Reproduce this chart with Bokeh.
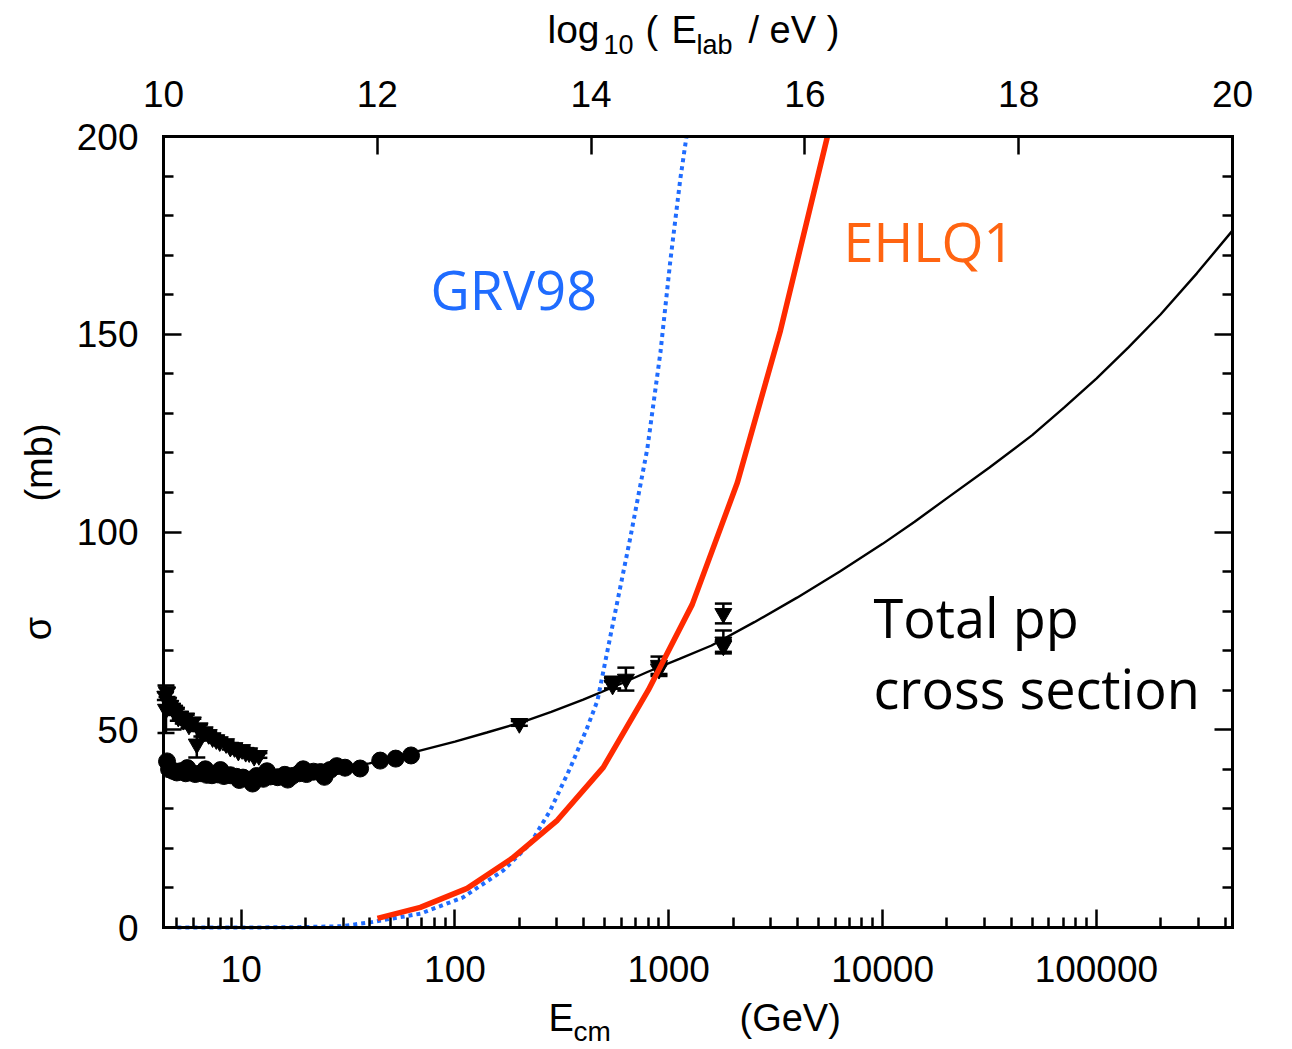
import math

from bokeh.embed import file_html
from bokeh.models import (ColumnDataSource, FixedTicker, Label, LinearAxis,
                          LinearScale, LogAxis, NumeralTickFormatter, Range1d,
                          TeeHead, Whisker)
from bokeh.plotting import figure
from bokeh.resources import INLINE

# ---------------------------------------------------------------- data
# Total pp cross-section fit: E_cm (GeV) vs sigma (mb)
fit_ecm = [10, 15.85, 25.1, 39.8, 63.1, 100, 141, 200, 282, 398, 562, 794,
           1122, 1585, 2512, 3981, 6310, 10000, 14125, 19953, 31623, 50119,
           70795, 100000, 141254, 199526, 295121, 433000]
fit_sigma = [38.4, 38.6, 39.6, 41.5, 44.2, 47.0, 49.3, 51.7, 54.5, 57.6,
             61.0, 64.6, 67.9, 71.3, 77.2, 83.4, 90.0, 97.0, 102.6, 108.5,
             116.3, 124.5, 131.5, 138.8, 146.7, 155.0, 165.4, 176.2]

# EHLQ1 prediction
ehlq_ecm = [43.4, 68.9, 114, 185, 301, 494, 802, 1288, 2094, 3327, 5521]
ehlq_sigma = [2.3, 5.1, 9.9, 17.5, 27.1, 40.5, 60.0, 81.7, 112.5, 150.9, 200.0]

# GRV98 prediction
grv_ecm = [5.03, 11.0, 18.9, 29.1, 40.2, 68.9, 109, 168, 225, 279, 347, 416,
           464, 551, 661, 794, 914, 1017, 1133, 1208]
grv_sigma = [0.0, 0.0, 0.1, 0.3, 1.3, 3.5, 7.6, 14.4, 21.2, 29.6, 40.5, 50.6,
             57.4, 77.5, 98.6, 121.1, 145.4, 168.6, 189.4, 199.7]

# pp measurements (circles)
pp_ecm = [4.5, 4.6, 4.8, 5.0, 5.2, 5.5, 5.6, 5.8, 6.1, 6.5, 6.8, 6.9, 7.3,
          7.8, 8.0, 8.3, 8.9, 9.5, 9.8, 10.2, 11.0, 11.3, 11.8, 12.7, 13.2,
          13.7, 14.8, 16.0, 16.5, 17.3, 18.7, 19.5, 20.2, 21.8, 23.5, 24.5,
          26.0, 28.0, 30.6, 36.0, 44.7, 52.8, 62.3]
pp_sigma = [42.0, 40.0, 39.6, 39.2, 39.5, 39.0, 40.3, 39.2, 38.8, 39.0, 40.0,
            38.6, 38.5, 38.7, 39.8, 38.3, 38.5, 38.1, 37.3, 37.9, 37.2, 36.4,
            38.3, 37.6, 39.5, 38.2, 38.0, 38.6, 37.4, 38.3, 39.0, 40.0, 38.8,
            39.4, 39.3, 38.1, 39.8, 40.8, 40.4, 40.2, 42.2, 42.7, 43.5]

# p-pbar measurements (down triangles) with errors
ppbar_ecm = [4.42, 4.45, 4.5, 4.56, 4.66, 4.76, 4.87, 4.97, 5.08, 5.19, 5.36,
             5.53, 5.7, 5.94, 6.2, 6.39, 6.55, 6.75, 7.05, 7.35, 7.65, 7.94,
             8.5, 8.9, 9.3, 9.7, 10.1, 10.5, 10.9, 11.5, 12.1,
             200, 546, 546, 630, 900, 900, 1800, 1800, 1800]
ppbar_sigma = [58.5, 55.2, 59.5, 57.0, 56.2, 55.5, 55.0, 54.5, 53.2, 53.5,
               52.4, 53.0, 51.2, 52.0, 46.4, 50.5, 49.0, 49.5, 48.8, 48.0,
               47.5, 47.0, 46.5, 45.6, 45.5, 44.6, 45.0, 44.3, 44.2, 43.3,
               43.5,
               51.6, 61.3, 61.9, 62.8, 65.3, 66.3, 79.4, 72.2, 71.2]
ppbar_err = [1.0, 6.0, 1.2, 0.9, 1.0, 0.9, 0.9, 0.8, 0.9, 0.8, 0.8, 0.8, 0.8,
             0.8, 3.4, 0.8, 0.7, 0.7, 0.7, 0.7, 0.7, 0.7, 0.6, 0.6, 0.6, 0.6,
             0.6, 0.6, 0.6, 0.6, 0.6,
             0.6, 0.9, 1.5, 2.9, 1.7, 2.2, 2.5, 2.9, 1.5]

# axis tick values
ecm_ticks = [10, 100, 1000, 10000, 100000]
lab_ticks = [10, 12, 14, 16, 18, 20]
sigma_ticks = [0, 50, 100, 150, 200]

# ---------------------------------------------------------------- layout
PROTON_MASS = 0.938272  # GeV
LAB_LOG_MIN, LAB_LOG_MAX = 10, 20
SIGMA_MIN, SIGMA_MAX = 0, 200


def ecm_from_lab(log_elab_ev):
    """Centre-of-mass energy (GeV) of a proton hitting a proton at rest."""
    return math.sqrt(2.0 * PROTON_MASS * 10 ** (log_elab_ev - 9))


E_MIN, E_MAX = ecm_from_lab(LAB_LOG_MIN), ecm_from_lab(LAB_LOG_MAX)

# canvas and the boxed plotting area inside it (pixels)
W, H = 1292, 1049
BOX_L, BOX_R, BOX_T, BOX_B = 163, 1232, 136, 927
BOX_W, BOX_H = BOX_R - BOX_L, BOX_B - BOX_T

# ranges are widened so the box lands at the pixels above
dec_per_px = (math.log10(E_MAX) - math.log10(E_MIN)) / BOX_W
x_start = 10 ** (math.log10(E_MIN) - BOX_L * dec_per_px)
x_end = 10 ** (math.log10(E_MAX) + (W - BOX_R) * dec_per_px)
sig_per_px = (SIGMA_MAX - SIGMA_MIN) / BOX_H
y_start = SIGMA_MIN - (H - BOX_B) * sig_per_px
y_end = SIGMA_MAX + BOX_T * sig_per_px
lab_per_px = (LAB_LOG_MAX - LAB_LOG_MIN) / BOX_W
lab_start = LAB_LOG_MIN - BOX_L * lab_per_px
lab_end = LAB_LOG_MAX + (W - BOX_R) * lab_per_px

TICK_FONT = "Liberation Sans"
TEXT_FONT = "Open Sans"

p = figure(
    x_axis_type="log",
    x_range=Range1d(x_start, x_end),
    y_range=Range1d(y_start, y_end),
    x_axis_location=None, y_axis_location=None,
    frame_width=W, frame_height=H, min_border=0,
    output_backend="svg", toolbar_location=None,
    background_fill_color="white", border_fill_color="white",
)
p.grid.visible = False
p.outline_line_color = None
p.extra_x_ranges = {"lab": Range1d(lab_start, lab_end)}
p.extra_x_scales = {"lab": LinearScale()}


def style_axis(ax, standoff=25, label_size="37px"):
    ax.axis_line_width = 3
    ax.axis_line_color = "black"
    ax.axis_line_cap = "square"
    ax.major_tick_in = 18
    ax.major_tick_out = 0
    ax.minor_tick_in = 10
    ax.minor_tick_out = 0
    ax.major_tick_line_width = 2.5
    ax.minor_tick_line_width = 2.5
    ax.major_tick_line_color = "black"
    ax.minor_tick_line_color = "black"
    ax.major_label_text_font = TICK_FONT
    ax.major_label_text_font_size = label_size
    ax.major_label_text_color = "black"
    ax.major_label_standoff = standoff


# minor ticks: 2..9 per decade, kept inside the box
ecm_minor = [m * d for d in [1, 10, 100, 1000, 10000, 100000]
             for m in range(2, 10) if E_MIN < m * d < E_MAX]
sigma_minor = [v for v in range(SIGMA_MIN, SIGMA_MAX + 1, 10) if v % 50]

# bottom: E_cm (log)
bottom = LogAxis(fixed_location=SIGMA_MIN, bounds=(E_MIN, E_MAX),
                 ticker=FixedTicker(ticks=ecm_ticks, minor_ticks=ecm_minor),
                 formatter=NumeralTickFormatter(format="0"))
style_axis(bottom, standoff=28)
p.add_layout(bottom, "below")

# top: log10(E_lab / eV)
top = LinearAxis(x_range_name="lab", fixed_location=SIGMA_MAX,
                 bounds=(LAB_LOG_MIN, LAB_LOG_MAX),
                 ticker=FixedTicker(ticks=lab_ticks, minor_ticks=[]))
style_axis(top, standoff=30)
p.add_layout(top, "above")

# left: sigma
left = LinearAxis(fixed_location=E_MIN, bounds=(SIGMA_MIN, SIGMA_MAX),
                  ticker=FixedTicker(ticks=sigma_ticks, minor_ticks=sigma_minor))
style_axis(left, standoff=25)
p.add_layout(left, "left")

# right: mirrored sigma ticks, no labels
right = LinearAxis(fixed_location=E_MAX, bounds=(SIGMA_MIN, SIGMA_MAX),
                   ticker=FixedTicker(ticks=sigma_ticks, minor_ticks=sigma_minor))
style_axis(right, label_size="0px")
right.major_label_text_color = None
p.add_layout(right, "right")

# ---------------------------------------------------------------- curves
p.line(fit_ecm, fit_sigma, line_color="black", line_width=2.4)
p.line(grv_ecm, grv_sigma, line_color="#1f6cff", line_width=4,
       line_dash="4 4")

err_src = ColumnDataSource(dict(
    x=ppbar_ecm,
    lo=[s - e for s, e in zip(ppbar_sigma, ppbar_err)],
    hi=[s + e for s, e in zip(ppbar_sigma, ppbar_err)],
))
p.add_layout(Whisker(
    base="x", lower="lo", upper="hi", source=err_src, dimension="height",
    line_color="black", line_width=2.5,
    lower_head=TeeHead(size=17, line_width=2.5, line_color="black"),
    upper_head=TeeHead(size=17, line_width=2.5, line_color="black"),
))

p.scatter(pp_ecm, pp_sigma, marker="circle", size=17,
          fill_color="black", line_color="black")
p.scatter(ppbar_ecm, ppbar_sigma, marker="inverted_triangle", size=17,
          fill_color="black", line_color="black")

p.line(ehlq_ecm, ehlq_sigma, line_color="#ff2a00", line_width=5.5)

# ---------------------------------------------------------------- texts
BASELINE_SHIFT = 0.435  # em; lifts Bokeh's alphabetic anchor onto the baseline


def put(text, X, Y, size, color="black", font=TICK_FONT, rotated=False,
        align="left"):
    """Place a text with its baseline start at canvas pixel (X, Y)."""
    if rotated:
        X, angle = X - BASELINE_SHIFT * size, math.pi / 2
    else:
        Y, angle = Y - BASELINE_SHIFT * size, 0.0
    p.add_layout(Label(
        x=X, y=H - Y, x_units="screen", y_units="screen",
        text=text, text_font=font, text_font_size=f"{size}px",
        text_color=color, angle=angle, text_align=align,
        text_baseline="alphabetic",
    ))


put("GRV98", 430, 312, 54, color="#1f6cff", font=TEXT_FONT)
put("EHLQ1", 843, 264, 54, color="#ff6411", font=TEXT_FONT)
put("Total pp", 873, 640, 54, font=TEXT_FONT)
put("cross section", 873, 711, 54, font=TEXT_FONT)

# top axis title: log10 ( E_lab / eV )
put("log", 547, 46, 39)
put("10", 603, 56, 27)
put("(", 645, 46, 38)
put("E", 671, 46, 38)
put("lab", 696, 56, 27)
put("/ eV )", 748, 46, 38)

# bottom axis title: E_cm (GeV)
put("E", 548, 1034, 38)
put("cm", 573, 1043, 28)
put("(GeV)", 739, 1034, 38)

# left axis title: sigma (mb)
put("σ", 54, 628, 38, rotated=True, align="center")
put("(mb)", 55, 462, 38, rotated=True, align="center")

open("out.html", "w").write(file_html(p, INLINE))
